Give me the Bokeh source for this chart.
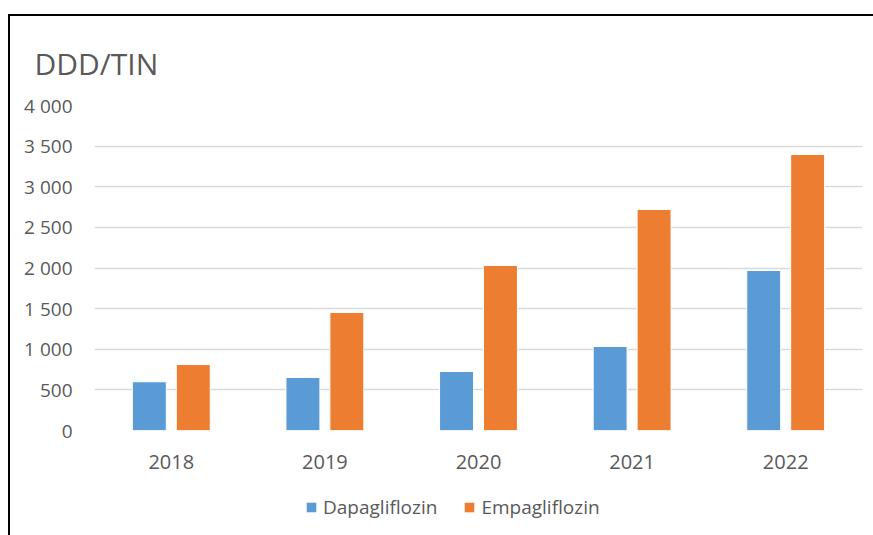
from bokeh.plotting import figure
from bokeh.layouts import column
from bokeh.models import ColumnDataSource, FixedTicker, Legend, LegendItem
from bokeh.transform import dodge
from bokeh.embed import file_html
from bokeh.resources import INLINE

years = ["2018", "2019", "2020", "2021", "2022"]
dapagliflozin = [600, 652, 726, 1034, 1969]
empagliflozin = [812, 1452, 2031, 2720, 3397]
y_ticks = [0, 500, 1000, 1500, 2000, 2500, 3000, 3500, 4000]
y_tick_labels = ["0", "500", "1 000", "1 500", "2 000", "2 500", "3 000", "3 500", "4 000"]
series_names = ["Dapagliflozin", "Empagliflozin"]
series_colors = ["#5b9bd5", "#ed7d31"]
title_text = "DDD/TIN"

src = ColumnDataSource(dict(year=years, dapa=dapagliflozin, empa=empagliflozin))

TXT = "#595959"
FONT = "Open Sans"

p = figure(x_range=years, y_range=(0, 4000), width=873, height=478,
           output_backend="svg", toolbar_location=None, title=title_text,
           min_border_left=94, min_border_right=11, min_border_top=105, min_border_bottom=48)
p.outline_line_color = None
p.background_fill_color = "white"

p.title.text_font = FONT
p.title.text_font_size = "30px"
p.title.text_font_style = "normal"
p.title.text_color = TXT
p.title.align = "left"
p.title.offset = -60
p.title.standoff = 43

p.vbar(x=dodge("year", -0.143, range=p.x_range), top="dapa", width=0.221, source=src,
       fill_color=series_colors[0], line_color="white", line_width=1)
p.vbar(x=dodge("year", 0.143, range=p.x_range), top="empa", width=0.221, source=src,
       fill_color=series_colors[1], line_color="white", line_width=1)

p.xgrid.grid_line_color = None
p.ygrid.grid_line_color = "#d9d9d9"
p.ygrid.grid_line_width = 1.5
p.yaxis.ticker = FixedTicker(ticks=y_ticks)
p.yaxis.major_label_overrides = {t: l for t, l in zip(y_ticks, y_tick_labels)}

for ax in (p.xaxis[0], p.yaxis[0]):
    ax.axis_line_color = None
    ax.major_tick_line_color = None
    ax.minor_tick_line_color = None
    ax.major_label_text_color = TXT
    ax.major_label_text_font = FONT
p.yaxis.major_label_text_font_size = "19px"
p.yaxis.major_label_standoff = 16
p.xaxis.major_label_text_font_size = "20px"
p.xaxis.major_label_standoff = 18

# legend strip below the chart
lf = figure(width=873, height=57, output_backend="svg", toolbar_location=None,
            x_axis_location=None, y_axis_location=None,
            min_border=0, min_border_left=0, min_border_right=0,
            min_border_top=0, min_border_bottom=0,
            x_range=(0, 1), y_range=(0, 1))
lf.grid.visible = False
lf.outline_line_color = None
items = []
for name, col in zip(series_names, series_colors):
    r = lf.vbar(x=[0], top=[0], width=0, fill_color=col, line_alpha=0)
    items.append(LegendItem(label=name, renderers=[r]))
legend = Legend(items=items, orientation="horizontal", location=(211, 15),
                border_line_color=None, background_fill_alpha=0,
                label_text_font=FONT, label_text_font_size="19px", label_text_color=TXT,
                glyph_width=12, glyph_height=12, spacing=26, label_standoff=6,
                margin=0, padding=2)
lf.add_layout(legend, "center")

layout = column(p, lf, spacing=0)
html = file_html(layout, INLINE)
css = ("<style>html,body{overflow:hidden;}"
       "body::after{content:'';position:fixed;left:8px;top:14px;width:1000px;height:1000px;"
       "border-top:2px solid #000;border-left:2px solid #000;pointer-events:none;}</style>")
html = html.replace("</head>", css + "</head>")
open("out.html", "w").write(html)
